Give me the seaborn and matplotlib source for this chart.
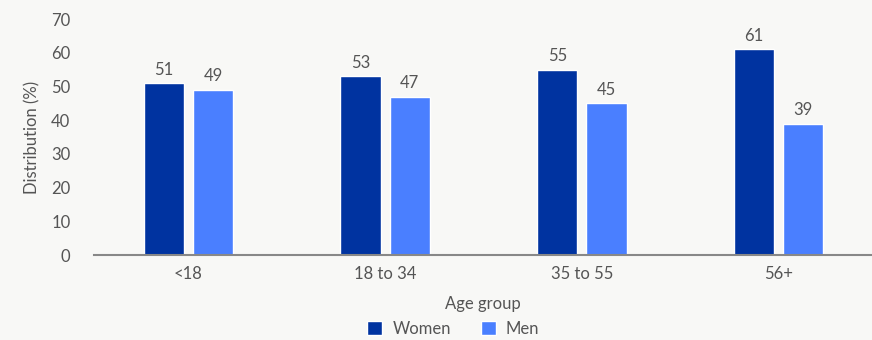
import matplotlib
matplotlib.use("Agg")
import matplotlib.pyplot as plt
import seaborn as sns
import pandas as pd

categories = ["<18", "18 to 34", "35 to 55", "56+"]
women = [51, 53, 55, 61]
men = [49, 47, 45, 39]
series = ["Women", "Men"]
yticks = [0, 10, 20, 30, 40, 50, 60, 70]

df = pd.DataFrame({
    "Age group": categories * 2,
    "value": women + men,
    "Sex": ["Women"] * len(categories) + ["Men"] * len(categories),
})

sns.set_theme(style="white")
plt.rcParams["font.family"] = ["Lato", "DejaVu Sans"]
bg = "#f8f8f6"
txt = "#555555"
fs = 12

fig = plt.figure(figsize=(8.72, 3.4), dpi=100, facecolor=bg)
ax = fig.add_axes([94 / 872, 0.25, 778 / 872, 0.694], facecolor=bg)

sns.barplot(data=df, x="Age group", y="value", hue="Sex", hue_order=series,
            order=categories, palette=["#0033a0", "#4a7fff"],
            width=0.5, gap=0.18, ax=ax, saturation=1, errorbar=None)

for cont in ax.containers:
    ax.bar_label(cont, fmt="%d", padding=4, color=txt, fontsize=fs)

ax.set_xlim(-0.48, 3.475)
ax.set_ylim(0, 70)
ax.set_yticks(yticks)
ax.set_ylabel("Distribution (%)", color=txt, fontsize=fs, labelpad=8)
ax.set_xlabel("Age group", color=txt, fontsize=fs, labelpad=10)
ax.tick_params(axis="both", colors=txt, labelsize=fs, length=0)
ax.tick_params(axis="x", pad=8)
ax.tick_params(axis="y", pad=17)
for s in ["top", "right", "left"]:
    ax.spines[s].set_visible(False)
ax.spines["bottom"].set_color("#888888")
ax.spines["bottom"].set_linewidth(1.5)

ax.legend_.remove()
handles, labels = ax.get_legend_handles_labels()
leg = fig.legend(handles, labels, loc="lower center", bbox_to_anchor=(0.52, -0.035),
                 ncol=2, frameon=False, fontsize=fs, handlelength=0.9, handleheight=0.9,
                 columnspacing=1.8, handletextpad=0.6)
for t in leg.get_texts():
    t.set_color(txt)

fig.savefig("out.png", dpi=100, facecolor=bg)
